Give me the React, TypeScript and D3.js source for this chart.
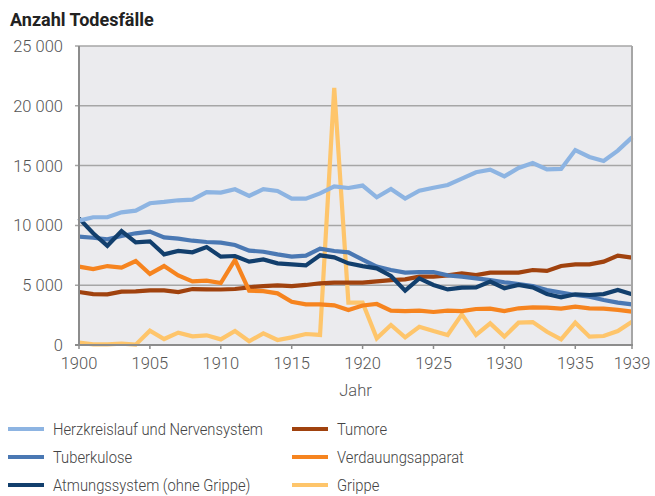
import React from "react";
import * as d3 from "d3";

const years = d3.range(1900, 1940);

const herz = [10400, 10680, 10680, 11090, 11230, 11850, 11960, 12100, 12150, 12790, 12740, 13020, 12460, 13030, 12880, 12240, 12240, 12680, 13270, 13130, 13330, 12350, 13040, 12240, 12900, 13150, 13380, 13910, 14440, 14660, 14100, 14800, 15220, 14690, 14720, 16300, 15720, 15380, 16250, 17360];
const tuberkulose = [9060, 8970, 8830, 9110, 9340, 9480, 9000, 8890, 8720, 8610, 8560, 8360, 7890, 7800, 7580, 7390, 7470, 8050, 7860, 7750, 7130, 6550, 6270, 6050, 6100, 6100, 5820, 5710, 5570, 5430, 5250, 5100, 4930, 4600, 4380, 4180, 4040, 3760, 3540, 3400];
const atmung = [10590, 9340, 8300, 9530, 8580, 8670, 7580, 7860, 7750, 8190, 7390, 7440, 6970, 7160, 6830, 6740, 6660, 7500, 7330, 6830, 6600, 6410, 5770, 4540, 5570, 5020, 4650, 4790, 4820, 5300, 4750, 5020, 4820, 4260, 3980, 4240, 4180, 4260, 4600, 4240];
const tumore = [4430, 4260, 4240, 4460, 4490, 4570, 4570, 4430, 4680, 4650, 4640, 4680, 4820, 4930, 4990, 4930, 5020, 5160, 5210, 5210, 5210, 5320, 5430, 5490, 5710, 5710, 5820, 5990, 5850, 6050, 6050, 6050, 6270, 6190, 6610, 6740, 6740, 6970, 7470, 7300];
const verdauung = [6550, 6350, 6600, 6470, 7020, 5940, 6600, 5820, 5320, 5380, 5180, 7110, 4540, 4510, 4320, 3620, 3400, 3400, 3320, 2930, 3300, 3430, 2870, 2840, 2870, 2760, 2870, 2840, 3010, 3040, 2840, 3070, 3150, 3120, 3040, 3200, 3070, 3040, 2930, 2790];
const grippe = [200, 60, 60, 110, 30, 1200, 500, 1030, 720, 810, 470, 1170, 310, 975, 420, 640, 920, 840, 21500, 3540, 3540, 560, 1670, 640, 1530, 1170, 840, 2560, 840, 1810, 700, 1870, 1920, 1110, 470, 1870, 700, 750, 1170, 1950];

const seriesNames = ["Herzkreislauf und Nervensystem", "Tuberkulose", "Atmungssystem (ohne Grippe)", "Tumore", "Verdauungsapparat", "Grippe"];
const seriesColors = ["#8db4e2", "#4a78b3", "#123f6d", "#a0420e", "#f6841f", "#fec56b"];
const seriesData = [herz, tuberkulose, atmung, tumore, verdauung, grippe];
const drawOrder = [5, 3, 4, 1, 2, 0];

const yTicks = [0, 5000, 10000, 15000, 20000, 25000];
const xTicks = [1900, 1905, 1910, 1915, 1920, 1925, 1930, 1935, 1939];

const title = "Anzahl Todesfälle";
const xTitle = "Jahr";

const fmt = (v: number) => (v >= 1000 ? `${Math.floor(v / 1000)} ${String(v % 1000).padStart(3, "0")}` : String(v));

export default function App() {
  const W = 655, H = 496;
  const left = 79, right = 632, top = 46, bottom = 345;
  const x = d3.scaleLinear().domain([1900, 1939]).range([left, right]);
  const y = d3.scaleLinear().domain([0, 25000]).range([bottom, top]);
  const line = d3.line<number>().x((_, i) => x(years[i])).y((d) => y(d));
  const font = "Roboto, 'Noto Sans', sans-serif";

  return (
    <svg width={W} height={H} style={{ position: "absolute", left: 0, top: 0 }} fontFamily={font}>
      <rect x={0} y={0} width={W} height={H} fill="#ffffff" />
      <text x={10} y={26} fontSize={18} fontWeight={700} fill="#222">{title}</text>
      <rect x={left} y={top} width={right - left} height={bottom - top} fill="#ebebee" />
      {yTicks.map((t) => (
        <g key={t}>
          <line x1={left - 4} x2={right} y1={y(t)} y2={y(t)} stroke="#a6a6a6" strokeWidth={1.5} />
          <text x={63} y={y(t) + 6} textAnchor="end" fontSize={16.5} fill="#555" fontWeight={300}>{fmt(t)}</text>
        </g>
      ))}
      {drawOrder.map((si) => (
        <path key={si} d={line(seriesData[si]) || ""} fill="none" stroke={seriesColors[si]} strokeWidth={4.2} strokeLinejoin="miter" />
      ))}
      <line x1={left} x2={left} y1={top} y2={bottom + 1} stroke="#8c8c8c" strokeWidth={2} />
      <line x1={right} x2={right} y1={top} y2={bottom + 1} stroke="#a6a6a6" strokeWidth={2} />
      <line x1={left - 4} x2={right + 1} y1={bottom} y2={bottom} stroke="#8c8c8c" strokeWidth={2} />
      {xTicks.map((t) => (
        <g key={t}>
          <line x1={x(t)} x2={x(t)} y1={bottom} y2={bottom + 4} stroke="#8c8c8c" strokeWidth={1.5} />
          <text x={x(t)} y={369} textAnchor="middle" fontSize={16.5} fill="#555" fontWeight={300}>{t}</text>
        </g>
      ))}
      <text x={(left + right) / 2} y={396} textAnchor="middle" fontSize={16.5} fill="#555" fontWeight={300}>{xTitle}</text>
      {seriesNames.map((n, i) => {
        const col = Math.floor(i / 3);
        const row = i % 3;
        const lx = col === 0 ? 8 : 292;
        const ly = 429 + row * 28;
        return (
          <g key={n}>
            <line x1={lx} x2={lx + 36} y1={ly} y2={ly} stroke={seriesColors[i]} strokeWidth={4} />
            <text transform={`translate(${lx + 45},${ly + 6}) scale(0.895,1)`} fontSize={16.5} fill="#444" fontWeight={300}>{n}</text>
          </g>
        );
      })}
    </svg>
  );
}
